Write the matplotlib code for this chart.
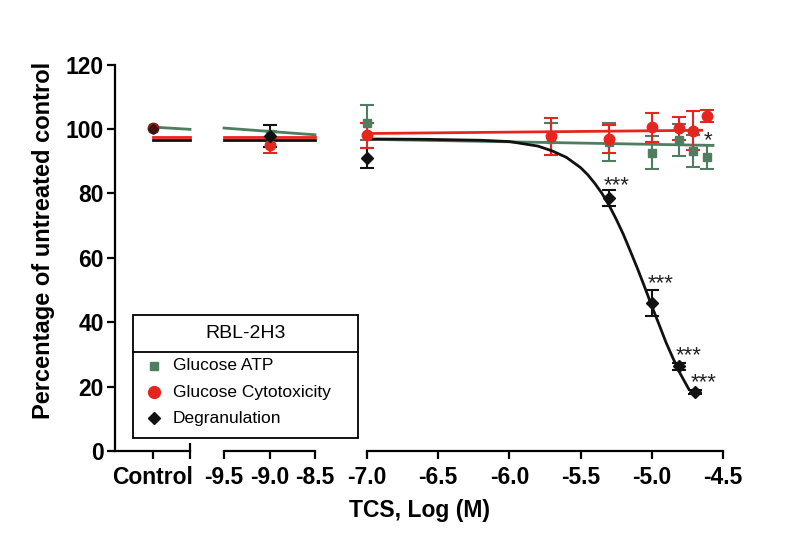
import matplotlib
matplotlib.use("Agg")
import matplotlib.pyplot as plt
from matplotlib.patches import Rectangle

plt.rcParams['font.family'] = ['Liberation Sans', 'DejaVu Sans']

# ---------------- data ----------------
GREEN = '#4e7d60'
RED = '#e5251f'
BLACK = '#111111'

series_names = ['Glucose ATP', 'Glucose Cytotoxicity', 'Degranulation']
legend_title = 'RBL-2H3'

# control segment (x position 1 on its own axis)
control_x = [1]
ctrl_green = [100.2]
ctrl_red = [100.2]
ctrl_black = [100.0]

# low-dose segment
low_x = [-9.0]
low_green = [98.5]
low_green_err = [1.0]
low_red = [95.0]
low_red_err = [2.5]
low_black = [97.8]
low_black_err = [3.5]

# main segment
green_x = [-7.0, -5.71, -5.3, -5.0, -4.81, -4.71, -4.61]
green_y = [102.0, 97.0, 96.0, 92.7, 96.5, 93.2, 91.3]
green_err = [5.5, 5.0, 6.0, 5.0, 5.0, 5.0, 3.7]
red_x = [-7.0, -5.71, -5.3, -5.0, -4.81, -4.71, -4.61]
red_y = [98.0, 97.7, 97.0, 100.5, 100.2, 99.5, 104.0]
red_err = [4.0, 5.7, 4.3, 4.5, 3.6, 6.0, 1.8]
black_x = [-7.0, -5.3, -5.0, -4.81, -4.70]
black_y = [91.0, 78.6, 46.0, 26.3, 18.3]
black_err = [3.0, 2.6, 4.0, 1.0, 0.5]

# fitted curves
ctrl_fit_x = [1, 2]
ctrl_fit_green = [100.6, 99.9]
ctrl_fit_red = [97.5, 97.5]
ctrl_fit_black = [96.6, 96.6]
low_fit_x = [-9.5, -8.5]
low_fit_green = [100.3, 98.2]
low_fit_red = [97.5, 97.5]
low_fit_black = [96.6, 96.6]
fit_green_x = [-7.0, -4.57]
fit_green_y = [96.8, 94.9]
fit_red_x = [-7.0, -4.65]
fit_red_y = [98.6, 99.6]
fit_black_x = [-7.0, -6.6, -6.2, -6.0, -5.8, -5.7, -5.6, -5.5, -5.45, -5.4, -5.35,
               -5.3, -5.25, -5.2, -5.15, -5.1, -5.05, -5.0, -4.95, -4.9, -4.85,
               -4.8, -4.74]
fit_black_y = [96.9, 96.8, 96.5, 96.1, 94.7, 93.2, 91.2, 88.0, 85.8, 83.1, 80.0,
               76.3, 72.0, 67.3, 62.0, 56.6, 50.9, 45.0, 39.4, 33.7, 28.7,
               24.0, 19.2]

stars_x = [-5.34, -5.03, -4.83, -4.73, -4.635]
stars_y = [82.5, 52.0, 29.5, 21.2, 96.3]
stars_txt = ['***', '***', '***', '***', '*']

yticks = [0, 20, 40, 60, 80, 100, 120]
low_ticks = [-9.5, -9.0, -8.5]
main_ticks = [-7.0, -6.5, -6.0, -5.5, -5.0, -4.5]

# ---------------- figure ----------------
W, H = 800, 533
fig = plt.figure(figsize=(8, 5.33), dpi=100)

def fax(x0, x1):
    y0, y1 = 451.0, 64.6
    return fig.add_axes([x0 / W, (H - y0) / H, (x1 - x0) / W, (y0 - y1) / H])

ax1 = fax(115, 190)
ax2 = fax(224, 315)
ax3 = fax(367, 723)

LW = 1.6
TFS = 16.5
for ax in (ax1, ax2, ax3):
    ax.set_ylim(0, 120)
    ax.patch.set_alpha(0)
    for s in ('top', 'right'):
        ax.spines[s].set_visible(False)
    ax.spines['bottom'].set_linewidth(LW)
    ax.spines['left'].set_linewidth(LW)
    ax.tick_params(axis='x', direction='out', length=6, width=LW, pad=5)
    ax.tick_params(axis='x', which='minor', direction='inout', length=11, width=LW)

ax1.set_xlim(0, 2)
ax2.set_xlim(-9.5, -8.5)
ax3.set_xlim(-7.0, -4.5)

ax1.set_yticks(yticks)
ax1.set_yticklabels([str(v) for v in yticks], fontsize=TFS, fontweight='bold')
ax1.tick_params(axis='y', direction='out', length=6, width=LW, pad=2)
for ax in (ax2, ax3):
    ax.spines['left'].set_visible(False)
    ax.set_yticks([])

ax1.set_xticks(control_x)
ax1.set_xticklabels(['Control'], fontsize=TFS, fontweight='bold')
ax1.set_xticks([2], minor=True)
ax2.set_xticks(low_ticks)
ax2.set_xticklabels(['%.1f' % v for v in low_ticks], fontsize=TFS, fontweight='bold')
ax2.set_xticks([-9.5, -8.5], minor=True)
ax3.set_xticks(main_ticks)
ax3.set_xticklabels(['%.1f' % v for v in main_ticks], fontsize=TFS, fontweight='bold')
ax3.set_xticks([-7.0, -4.5], minor=True)

FLW = 2.0
ekw = dict(capsize=5, capthick=1.5, elinewidth=1.5, linestyle='none', clip_on=False)

# control segment
ax1.plot(ctrl_fit_x, ctrl_fit_black, color=BLACK, lw=FLW, clip_on=False)
ax1.plot(ctrl_fit_x, ctrl_fit_red, color=RED, lw=FLW, clip_on=False)
ax1.plot(ctrl_fit_x, ctrl_fit_green, color=GREEN, lw=FLW, clip_on=False)
ax1.plot(control_x, ctrl_green, 's', color=GREEN, ms=6, clip_on=False)
ax1.plot(control_x, ctrl_red, 'o', color='#8b1a16', ms=7.5, clip_on=False)
ax1.plot(control_x, ctrl_black, 'D', color=BLACK, ms=5, alpha=0.6, clip_on=False)

# low segment
ax2.plot(low_fit_x, low_fit_black, color=BLACK, lw=FLW, clip_on=False)
ax2.plot(low_fit_x, low_fit_red, color=RED, lw=FLW, clip_on=False)
ax2.plot(low_fit_x, low_fit_green, color=GREEN, lw=FLW, clip_on=False)
ax2.errorbar(low_x, low_green, yerr=low_green_err, fmt='s', color=GREEN, ms=6, **ekw)
ax2.errorbar(low_x, low_red, yerr=low_red_err, fmt='o', color=RED, ms=7.5, **ekw)
ax2.errorbar(low_x, low_black, yerr=low_black_err, fmt='D', color=BLACK, ms=6, **ekw)

# main segment
ax3.errorbar(green_x, green_y, yerr=green_err, fmt='s', color=GREEN, ms=6, **ekw)
ax3.errorbar(black_x, black_y, yerr=black_err, fmt='D', color=BLACK, ms=6, **ekw)
ax3.plot(fit_green_x, fit_green_y, color=GREEN, lw=FLW, clip_on=False)
ax3.errorbar(red_x, red_y, yerr=red_err, fmt='o', color=RED, ms=7.5, **ekw)
ax3.plot(fit_red_x, fit_red_y, color=RED, lw=FLW, clip_on=False)
ax3.plot(fit_black_x, fit_black_y, color=BLACK, lw=FLW, clip_on=False)

for sx, sy, st in zip(stars_x, stars_y, stars_txt):
    ax3.text(sx, sy, st, fontsize=16, ha='left', va='center', color='#222222')

# axis titles
fig.text(44 / W, 1 - 240 / H, 'Percentage of untreated control', rotation=90,
         ha='center', va='center', fontsize=17, fontweight='bold')
fig.text(419 / W, 1 - 510 / H, 'TCS, Log (M)', ha='center', va='center',
         fontsize=16.5, fontweight='bold')

# legend box (overlay in pixel coordinates)
ov = fig.add_axes([0, 0, 1, 1])
ov.set_xlim(0, W)
ov.set_ylim(H, 0)
ov.axis('off')
ov.patch.set_alpha(0)
ov.add_patch(Rectangle((133, 315), 225, 123, facecolor='white', edgecolor='black', lw=1.3))
ov.plot([133, 358], [352, 352], color='black', lw=1.3)
ov.text(246, 334, legend_title, ha='center', va='center', fontsize=14)
leg_marks = [('s', GREEN, 6), ('o', RED, 8.5), ('D', BLACK, 6)]
for i, (name, (m, c, ms)) in enumerate(zip(series_names, leg_marks)):
    yy = 366 + 26 * i
    ov.plot([154], [yy], m, color=c, ms=ms)
    ov.text(173, yy, name, ha='left', va='center', fontsize=12.5)

fig.savefig('out.png', dpi=100, facecolor='white')
